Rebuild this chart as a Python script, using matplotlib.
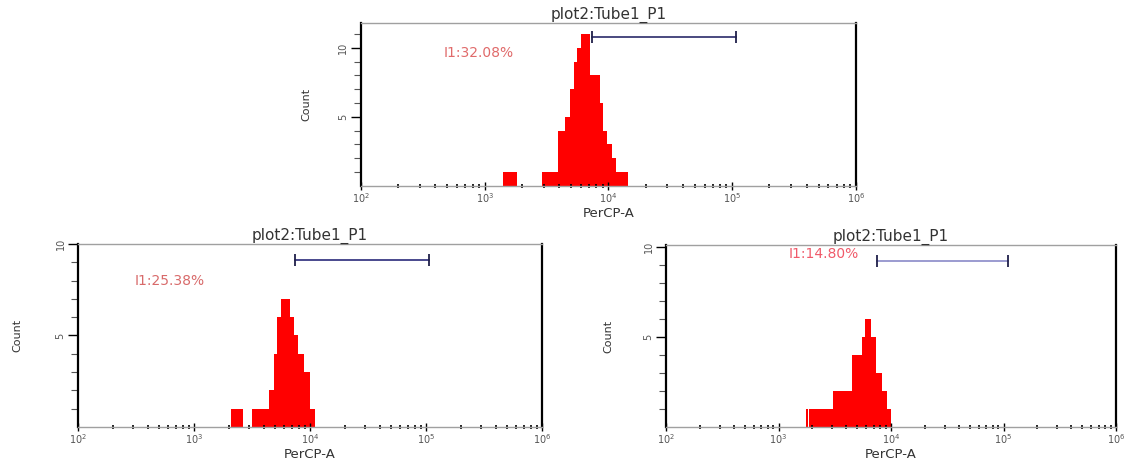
import numpy as np
import matplotlib
matplotlib.use('Agg')
import matplotlib.pyplot as plt
from matplotlib.ticker import FixedLocator, NullFormatter

# histogram bins (log10 of PerCP-A) and counts for the three tubes
top_edges = [3.15, 3.26, 3.46, 3.59, 3.65, 3.69, 3.72, 3.75, 3.78, 3.85, 3.93, 3.96, 3.99, 4.03, 4.06, 4.16]
top_counts = [1, 0, 1, 4, 5, 7, 9, 10, 11, 8, 6, 4, 3, 2, 1]

left_edges = [3.32, 3.42, 3.50, 3.65, 3.69, 3.72, 3.75, 3.83, 3.86, 3.90, 3.95, 4.00, 4.04]
left_counts = [1, 0, 1, 2, 4, 6, 7, 6, 5, 4, 3, 1]

right_edges = [3.24, 3.26, 3.27, 3.48, 3.65, 3.74, 3.77, 3.82, 3.87, 3.92, 3.96, 4.00]
right_counts = [1, 0, 1, 2, 4, 5, 6, 5, 3, 2, 1]

# gate I1 (log10 range) and its label
gate_lo = [3.87, 3.87, 3.875]
gate_hi = [5.03, 5.03, 5.04]
gate_y = [10.8, 9.1, 9.2]
gate_labels = ['I1:32.08%', 'I1:25.38%', 'I1:14.80%']
label_pos = [(2.95, 9.6), (2.79, 8.0), (3.40, 9.6)]
ymax = [11.8, 10.0, 10.1]

title = 'plot2:Tube1_P1'
xlab = 'PerCP-A'
decades = [2, 3, 4, 5, 6]

fig = plt.figure(figsize=(11.35, 4.66), dpi=100)
ax_top = fig.add_axes([0.318, 0.601, 0.436, 0.350])
ax_l = fig.add_axes([0.0687, 0.0837, 0.4088, 0.3927])
ax_r = fig.add_axes([0.5868, 0.0837, 0.3965, 0.3906])

panels = [(ax_top, top_edges, top_counts), (ax_l, left_edges, left_counts), (ax_r, right_edges, right_counts)]
gate_line_colors = ['#2a2a6a', '#2a2a7a', '#8a8ac8']
label_colors = ['#e06a6a', '#d86a6a', '#f05a6a']
ylab_x = [-0.10, -0.12, -0.118]

for i, (ax, edges, counts) in enumerate(panels):
    ax.stairs(counts, [10 ** e for e in edges], fill=True, color='#ff0000', lw=0)
    ax.set_xscale('log')
    ax.set_xlim(10 ** decades[0], 10 ** decades[-1])
    ax.set_ylim(0, ymax[i])

    ax.plot([10 ** gate_lo[i], 10 ** gate_hi[i]], [gate_y[i], gate_y[i]], color=gate_line_colors[i],
            lw=1.2, zorder=3)
    ax.plot([10 ** gate_lo[i], 10 ** gate_hi[i]], [gate_y[i], gate_y[i]], ls='none', marker='|',
            markersize=9, mew=1.3, color='#20204a', zorder=4)
    ax.text(10 ** label_pos[i][0], label_pos[i][1], gate_labels[i], color=label_colors[i],
            fontsize=10, ha='center', va='center')

    ax.set_title(title, fontsize=11, color='#333333', pad=3)
    ax.set_xlabel(xlab, fontsize=9.5, color='#333333', labelpad=1)
    ax.set_ylabel('Count', fontsize=8, color='#333333')
    ax.yaxis.set_label_coords(ylab_x[i], 0.5)

    ax.xaxis.set_major_locator(FixedLocator([10 ** d for d in decades]))
    ax.set_xticklabels([r'$10^{%d}$' % d for d in decades])
    minors = [m * 10 ** d for d in decades[:-1] for m in range(2, 10)]
    ax.xaxis.set_minor_locator(FixedLocator(minors))
    ax.xaxis.set_minor_formatter(NullFormatter())
    ax.tick_params(axis='x', which='major', direction='inout', length=6, width=1,
                   labelsize=7, labelcolor='#555555', pad=1)
    ax.tick_params(axis='x', which='minor', direction='inout', length=3, width=1.2)

    ax.yaxis.set_major_locator(FixedLocator([5, 10]))
    ax.yaxis.set_minor_locator(FixedLocator(list(range(1, int(ymax[i]) + 1))))
    ax.yaxis.set_minor_formatter(NullFormatter())
    for lab in ax.get_yticklabels():
        lab.set_rotation(90)
        lab.set_va('center')
    ax.tick_params(axis='y', which='major', direction='out', length=7, width=1,
                   labelsize=7, labelcolor='#555555', pad=2)
    ax.tick_params(axis='y', which='minor', direction='out', length=5, width=0.8, color='#555555')

    for s in ['left', 'right']:
        ax.spines[s].set_color('black')
        ax.spines[s].set_linewidth(1.6)
    for s in ['top', 'bottom']:
        ax.spines[s].set_color('#a0a0a0')
        ax.spines[s].set_linewidth(1.0)

fig.savefig('out.png', dpi=100)
